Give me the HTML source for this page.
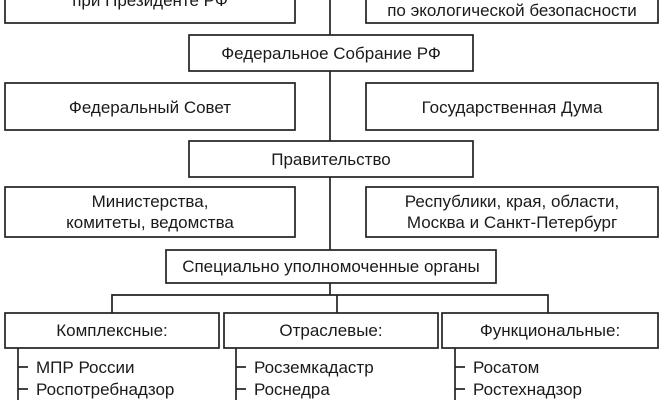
<!DOCTYPE html>
<html><head><meta charset="utf-8"><style>
html,body{margin:0;padding:0;background:#fff;}
svg{display:block;}
text{font-family:"Liberation Sans",sans-serif;font-size:17px;fill:#1a1a1a;}
</style></head><body>
<svg width="663" height="400" viewBox="0 0 663 400" xmlns="http://www.w3.org/2000/svg">
<g fill="none" stroke="#222" stroke-width="1.7">
<rect x="5" y="-20" width="290" height="43"/>
<rect x="366" y="-20" width="292" height="43"/>
<line x1="330" y1="0" x2="330" y2="35"/>
<rect x="189" y="35" width="284" height="36"/>
<line x1="330" y1="71" x2="330" y2="141"/>
<rect x="5" y="83" width="290" height="47"/>
<rect x="366" y="83" width="292" height="47"/>
<rect x="189" y="141" width="284" height="36"/>
<line x1="330" y1="177" x2="330" y2="250"/>
<rect x="5" y="187" width="290" height="50"/>
<rect x="366" y="187" width="292" height="50"/>
<rect x="166" y="250" width="330" height="33"/>
<line x1="330" y1="283" x2="330" y2="295"/>
<polyline points="112,313 112,295 548,295 548,313"/>
<line x1="337" y1="295" x2="337" y2="313"/>
<rect x="5" y="313" width="214" height="35"/>
<rect x="224" y="313" width="214" height="35"/>
<rect x="442" y="313" width="216" height="35"/>
<line x1="18" y1="348" x2="18" y2="400"/>
<line x1="18" y1="367" x2="28" y2="367"/>
<line x1="18" y1="389" x2="28" y2="389"/>
<line x1="236" y1="348" x2="236" y2="400"/>
<line x1="236" y1="367" x2="246" y2="367"/>
<line x1="236" y1="389" x2="246" y2="389"/>
<line x1="455" y1="348" x2="455" y2="400"/>
<line x1="455" y1="367" x2="465" y2="367"/>
<line x1="455" y1="389" x2="465" y2="389"/>
</g>
<g text-anchor="middle">
<text x="150" y="6">при Президенте РФ</text>
<text x="512" y="16">по экологической безопасности</text>
<text x="331" y="59">Федеральное Собрание РФ</text>
<text x="150" y="113">Федеральный Совет</text>
<text x="512" y="113">Государственная Дума</text>
<text x="331" y="165">Правительство</text>
<text x="150" y="207">Министерства,</text>
<text x="150" y="228">комитеты, ведомства</text>
<text x="512" y="207">Республики, края, области,</text>
<text x="512" y="228">Москва и Санкт-Петербург</text>
<text x="331" y="272">Специально уполномоченные органы</text>
<text x="112" y="336">Комплексные:</text>
<text x="331" y="336">Отраслевые:</text>
<text x="550" y="336">Функциональные:</text>
</g>
<text x="36" y="373">МПР России</text>
<text x="36" y="395">Роспотребнадзор</text>
<text x="254" y="373">Росземкадастр</text>
<text x="254" y="395">Роснедра</text>
<text x="473" y="373">Росатом</text>
<text x="473" y="395">Ростехнадзор</text>
</svg>
</body></html>
